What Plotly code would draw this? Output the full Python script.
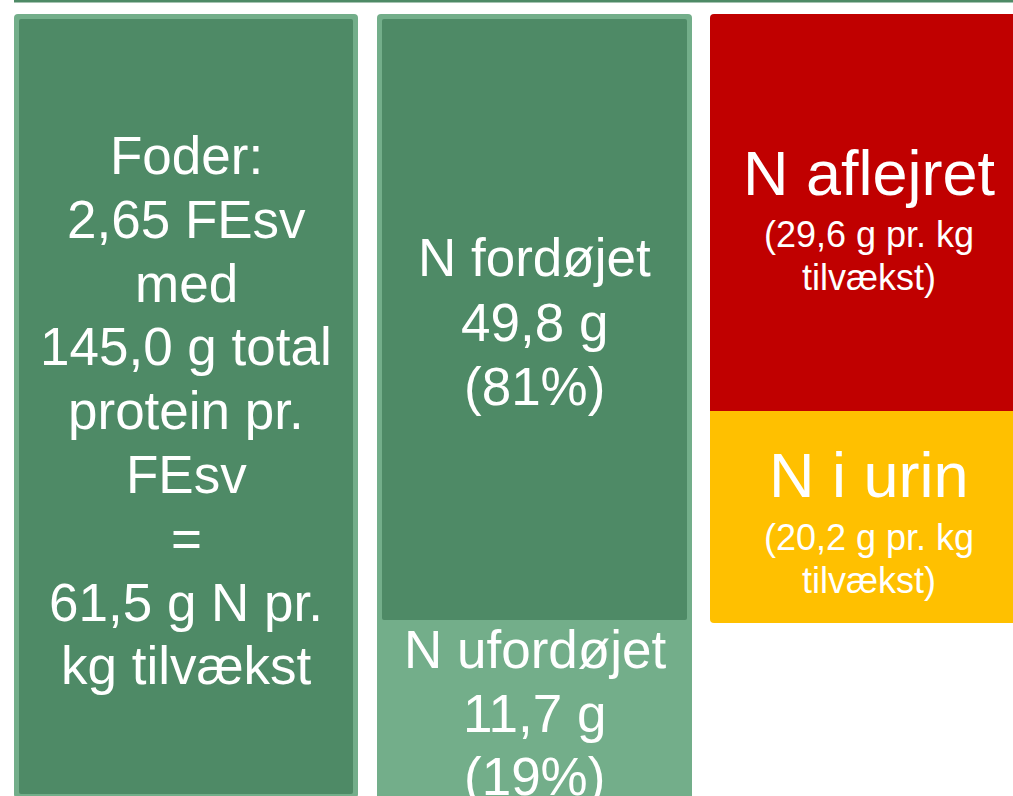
import plotly.graph_objects as go

# ---- data ----
feed_fesv = 2.65            # FEsv
feed_protein = 145.0        # g total protein pr. FEsv
feed_n = 61.5               # g N pr. kg tilvækst
digested_n = 49.8           # g
digested_pct = 81           # %
undigested_n = 11.7         # g
undigested_pct = 19         # %
deposited_n = 29.6          # g pr. kg tilvækst
urine_n = 20.2              # g pr. kg tilvækst


def dk(v, d=1):
    return f"{v:.{d}f}".replace(".", ",")


feed_lines = ["Foder:", f"{dk(feed_fesv, 2)} FEsv", "med", f"{dk(feed_protein)} g total",
              "protein pr.", "FEsv", "=", f"{dk(feed_n)} g N pr.", "kg tilvækst"]
digested_lines = ["N fordøjet", f"{dk(digested_n)} g", f"({digested_pct}%)"]
undigested_lines = ["N ufordøjet", f"{dk(undigested_n)} g", f"({undigested_pct}%)"]
deposited_title = "N aflejret"
deposited_lines = [f"({dk(deposited_n)} g pr. kg", "tilvækst)"]
urine_title = "N i urin"
urine_lines = [f"({dk(urine_n)} g pr. kg", "tilvækst)"]

# ---- styles ----
DARK = "#4E8A66"
LIGHT = "#73AE8A"
RED = "#C00000"
YELLOW = "#FFC000"
FONT = "Liberation Sans, Arial, sans-serif"
W, H = 1013, 796


def rrect(x0, y0, x1, y1, r=4, tl=True, tr=True, br=True, bl=True):
    # y axis reversed: y0 top, y1 bottom
    rtl, rtr, rbr, rbl = [r if f else 0 for f in (tl, tr, br, bl)]
    p = f"M {x0+rtl},{y0} L {x1-rtr},{y0} "
    p += f"Q {x1},{y0} {x1},{y0+rtr} " if rtr else ""
    p += f"L {x1},{y1-rbr} "
    p += f"Q {x1},{y1} {x1-rbr},{y1} " if rbr else ""
    p += f"L {x0+rbl},{y1} "
    p += f"Q {x0},{y1} {x0},{y1-rbl} " if rbl else ""
    p += f"L {x0},{y0+rtl} "
    p += f"Q {x0},{y0} {x0+rtl},{y0} " if rtl else ""
    return p + "Z"


shapes = [
    dict(type="line", x0=14, x1=W + 10, y0=1, y1=1, line=dict(color=DARK, width=3)),
    dict(type="path", path=rrect(14, 14, 358, 798), fillcolor=LIGHT, line_width=0),
    dict(type="path", path=rrect(19, 19, 353, 794, 2), fillcolor=DARK, line_width=0),
    dict(type="path", path=rrect(377, 14, 692, 830), fillcolor=LIGHT, line_width=0),
    dict(type="path", path=rrect(382, 19, 687, 620, 2), fillcolor=DARK, line_width=0),
    dict(type="path", path=rrect(710, 14, 1035, 412, 4, br=False, bl=False), fillcolor=RED, line_width=0),
    dict(type="path", path=rrect(710, 411, 1035, 623, 4, tl=False, tr=False), fillcolor=YELLOW, line_width=0),
]

annotations = []


def add_lines(lines, xc, y_first, step, size):
    for i, t in enumerate(lines):
        annotations.append(dict(x=xc, y=y_first + i * step, text=t, showarrow=False,
                                xanchor="center", yanchor="middle",
                                font=dict(family=FONT, size=size, color="white")))


add_lines(feed_lines, 186, 155.5, 63.8, 53)
add_lines(digested_lines, 534.5, 257.5, 64.5, 53)
add_lines(undigested_lines, 534.5, 649.5, 63.5, 53)
add_lines([deposited_title], 869, 172.5, 0, 63)
add_lines(deposited_lines, 869, 234, 43, 36)
add_lines([urine_title], 869, 475, 0, 63)
add_lines(urine_lines, 869, 537, 43, 36)

fig = go.Figure()
fig.add_trace(go.Scatter(x=[0, W], y=[0, H], mode="markers", marker=dict(opacity=0),
                         hoverinfo="skip", showlegend=False))
fig.update_layout(
    width=W, height=H, margin=dict(l=0, r=0, t=0, b=0),
    paper_bgcolor="white", plot_bgcolor="white",
    xaxis=dict(range=[0, W], visible=False, fixedrange=True),
    yaxis=dict(range=[H, 0], visible=False, fixedrange=True),
    shapes=shapes, annotations=annotations, showlegend=False,
)
fig.write_html("out.html", config={"displayModeBar": False},
               post_script="document.body.style.margin='0';document.body.style.overflow='hidden';")
